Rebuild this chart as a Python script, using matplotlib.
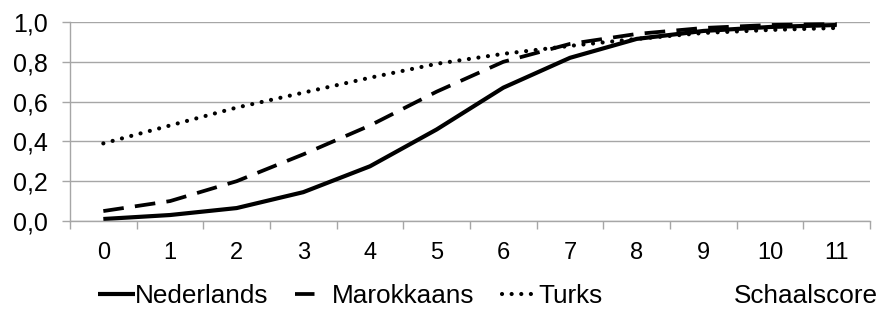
import matplotlib
matplotlib.use("Agg")
import matplotlib.pyplot as plt
from matplotlib.lines import Line2D

scores = list(range(12))
nederlands = [0.01, 0.03, 0.065, 0.145, 0.275, 0.46, 0.67, 0.82, 0.915, 0.955, 0.975, 0.985]
marokkaans = [0.05, 0.10, 0.20, 0.335, 0.48, 0.65, 0.80, 0.89, 0.94, 0.97, 0.985, 0.99]
turks = [0.39, 0.48, 0.57, 0.645, 0.72, 0.79, 0.84, 0.88, 0.915, 0.945, 0.96, 0.97]
yticks = [0.0, 0.2, 0.4, 0.6, 0.8, 1.0]
labels = ['Nederlands', 'Marokkaans', 'Turks']

plt.rcParams['font.family'] = ['Liberation Sans', 'DejaVu Sans']

fig = plt.figure(figsize=(8.83, 3.18), dpi=100)
ax = fig.add_axes([70/883, 1-221/318, 800/883, 199/318])

grey = '#a6a6a6'
ax.plot(scores, nederlands, color='black', lw=3, solid_capstyle='butt')
ax.plot(scores, marokkaans, color='black', lw=2.7, dashes=(5.5, 3.0))
ax.plot(scores, turks, color='black', lw=3.0, linestyle=(0, (0.01, 2.3)),
        dash_capstyle='round')

ax.set_xlim(-0.5, 11.5)
ax.set_ylim(0, 1)
ax.set_yticks(yticks)
ax.set_yticklabels([f"{v:.1f}".replace('.', ',') for v in yticks], fontsize=18)
ax.yaxis.grid(True, color=grey, lw=1)
ax.set_axisbelow(True)

ax.set_xticks(scores)
ax.set_xticklabels([str(s) for s in scores], fontsize=17)
ax.set_xticks([s - 0.5 for s in scores] + [11.5], minor=True)
ax.tick_params(axis='x', which='major', length=0, pad=15)
ax.tick_params(axis='x', which='minor', length=6, color=grey, width=1)
ax.tick_params(axis='y', length=6, color=grey, width=1, pad=10)

for s in ['top', 'right']:
    ax.spines[s].set_visible(False)
for s in ['bottom', 'left']:
    ax.spines[s].set_color(grey)
    ax.spines[s].set_linewidth(1)

h1 = Line2D([], [], color='black', lw=3, solid_capstyle='butt')
h2 = Line2D([], [], color='black', lw=2.7, dashes=(5.2, 20))
h3 = Line2D([], [], color='black', lw=3.0, linestyle=(0, (0.01, 2.3)), dash_capstyle='round')
fig.legend(handles=[h1, h2, h3], labels=labels, loc='center left',
           bbox_to_anchor=(98/883, 1-296/318),
           ncol=3, frameon=False, fontsize=18.8, handlelength=1.4, handletextpad=0.0,
           columnspacing=1.05, borderpad=0, borderaxespad=0)
fig.text(878/883, 1-296/318, 'Schaalscore', fontsize=18.8, ha='right', va='center')

fig.savefig('out.png', dpi=100)
